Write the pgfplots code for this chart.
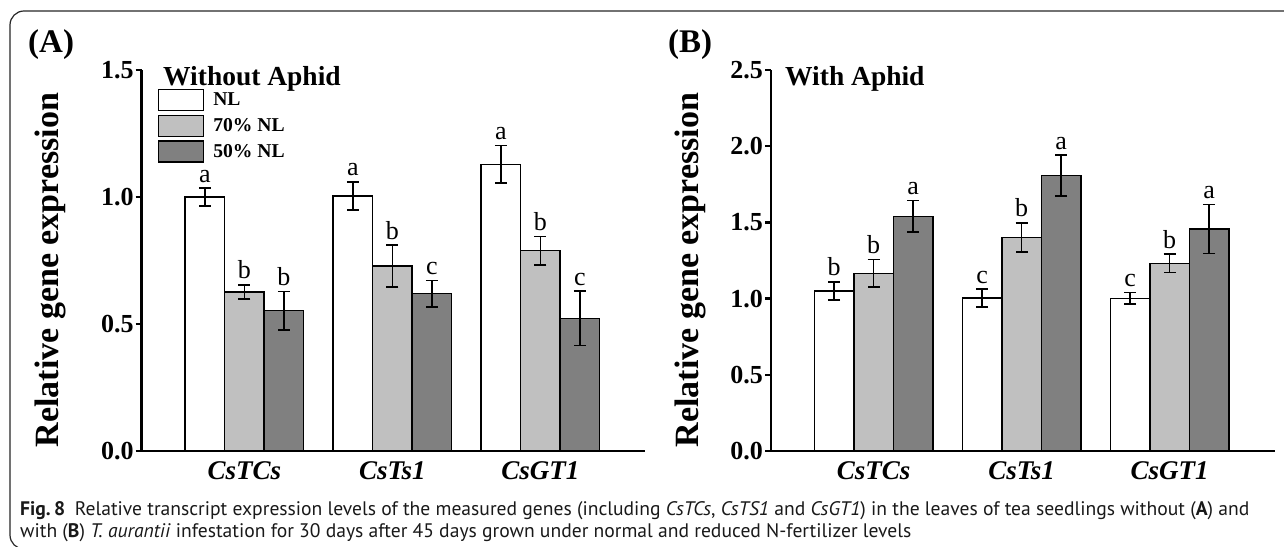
\documentclass[border=0pt]{standalone}
\usepackage{fontspec}
\setmainfont{Liberation Serif}
\newfontfamily\capfont{PT Sans}
\usepackage{pgfplots}
\usepackage{pgfplotstable}
\pgfplotsset{compat=1.18}
\definecolor{lg}{HTML}{C0C0C0}
\definecolor{dg}{HTML}{808080}

% Panel A (Without Aphid)
\pgfplotstableread{
x y err lab
0 1.000 0.035 a
1 1.004 0.056 a
2 1.129 0.073 a
}\ANL
\pgfplotstableread{
x y err lab
0 0.626 0.028 b
1 0.728 0.083 b
2 0.789 0.056 b
}\ASev
\pgfplotstableread{
x y err lab
0 0.552 0.075 b
1 0.619 0.053 c
2 0.522 0.107 c
}\AFif
% Panel B (With Aphid)
\pgfplotstableread{
x y err lab
0 1.050 0.060 b
1 1.004 0.059 c
2 1.002 0.038 c
}\BNL
\pgfplotstableread{
x y err lab
0 1.166 0.090 b
1 1.402 0.095 b
2 1.232 0.060 b
}\BSev
\pgfplotstableread{
x y err lab
0 1.540 0.103 a
1 1.807 0.135 a
2 1.457 0.160 a
}\BFif

\pgfplotsset{
  mybar/.style={draw=black, line width=1.3pt,
    /pgfplots/error bars/y dir=both,
    /pgfplots/error bars/y explicit,
    /pgfplots/error bars/error bar style={line width=1.5pt, black},
    /pgfplots/error bars/error mark options={rotate=90, mark size=6pt, line width=1.5pt, black},
    nodes near coords, point meta=explicit symbolic,
    visualization depends on={\thisrow{err}\as\myerr},
    every node near coord/.append style={shift={(axis direction cs:0,\myerr)}, anchor=south, inner sep=0pt, yshift=5pt, font=\fontsize{26}{26}\selectfont, black},
    legend image code/.code={\draw[##1, line width=1.3pt] (0pt,-10.5pt) rectangle (45pt,10.5pt);}
  },
  myaxis/.style={
    scale only axis, anchor=south west,
    width=503.5pt, height=381pt,
    ybar=0pt, bar width=39.5pt,
    xmin=-0.694, xmax=2.709, ymin=0,
    enlargelimits=false, clip=false,
    axis lines*=left, axis line style={line width=2.5pt, black},
    tick align=outside, major tick length=6pt,
    every tick/.style={black, line width=2.5pt},
    x tick style={draw=none},
    xtick={0,1,2}, xticklabels={\textit{CsTCs},\textit{CsTs1},\textit{CsGT1}},
    xticklabel style={font=\fontsize{27}{27}\selectfont\bfseries, inner sep=0pt, anchor=north, yshift=-4pt},
    yticklabel style={/pgf/number format/fixed, /pgf/number format/fixed zerofill, /pgf/number format/precision=1, /pgf/number format/assume math mode=true, font=\fontsize{26}{26}\selectfont\bfseries, inner xsep=2pt},
  }
}

\begin{document}
\begin{tikzpicture}[x=1pt,y=1pt]
\useasboundingbox (0,0) rectangle (1284,546);
\draw[line width=1.2pt, black!85, rounded corners=14pt] (10,-3) rectangle (1310,535);

% Panel A
\begin{axis}[myaxis, at={(141.7pt,95pt)}, ymax=1.5, ytick={0,0.5,1,1.5},
  legend style={at={(axis description cs:0.032,0.951)}, anchor=north west, draw=none, fill=none, inner sep=0pt, row sep=3.5pt, font=\fontsize{19.6}{20}\selectfont\bfseries, nodes={inner sep=0pt}, /tikz/every odd column/.append style={column sep=9pt}},
  legend cell align=left]
\addplot[mybar, fill=white] table[x=x, y=y, y error=err, meta=lab] {\ANL};
\addplot[mybar, fill=lg] table[x=x, y=y, y error=err, meta=lab] {\ASev};
\addplot[mybar, fill=dg] table[x=x, y=y, y error=err, meta=lab] {\AFif};
\legend{NL, 70\% NL, 50\% NL}
\end{axis}

% Panel B
\begin{axis}[myaxis, at={(771pt,95pt)}, ymax=2.5, ytick={0,0.5,1,1.5,2,2.5}]
\addplot[mybar, fill=white] table[x=x, y=y, y error=err, meta=lab] {\BNL};
\addplot[mybar, fill=lg] table[x=x, y=y, y error=err, meta=lab] {\BSev};
\addplot[mybar, fill=dg] table[x=x, y=y, y error=err, meta=lab] {\BFif};
\end{axis}

% panel labels and titles
\node[anchor=base west, inner sep=0pt, font=\fontsize{33}{33}\selectfont\bfseries] at (28,493) {(A)};
\node[anchor=base west, inner sep=0pt, font=\fontsize{33}{33}\selectfont\bfseries] at (668,493) {(B)};
\node[anchor=base west, inner sep=0pt, font=\fontsize{27.5}{27.5}\selectfont\bfseries] at (163,460) {Without Aphid};
\node[anchor=base west, inner sep=0pt, font=\fontsize{27.5}{27.5}\selectfont\bfseries] at (785,460) {With Aphid};
\node[rotate=90, inner sep=0pt, font=\fontsize{34}{34}\selectfont\bfseries] at (50,276) {Relative gene expression};
\node[rotate=90, inner sep=0pt, font=\fontsize{34}{34}\selectfont\bfseries] at (690,276) {Relative gene expression};

% caption
\node[anchor=base west, inner sep=0pt, font=\capfont\fontsize{19.6}{22}\selectfont, text=black!90] at (20,31)
  {\textbf{Fig.\,8}\hspace{0.5em}Relative transcript expression levels of the measured genes (including \textit{CsTCs}, \textit{CsTS1} and \textit{CsGT1}) in the leaves of tea seedlings without (\textbf{A}) and};
\node[anchor=base west, inner sep=0pt, font=\capfont\fontsize{19.6}{22}\selectfont, text=black!90] at (20,9)
  {with (\textbf{B}) \textit{T. aurantii} infestation for 30 days after 45 days grown under normal and reduced N-fertilizer levels};
\end{tikzpicture}
\end{document}
